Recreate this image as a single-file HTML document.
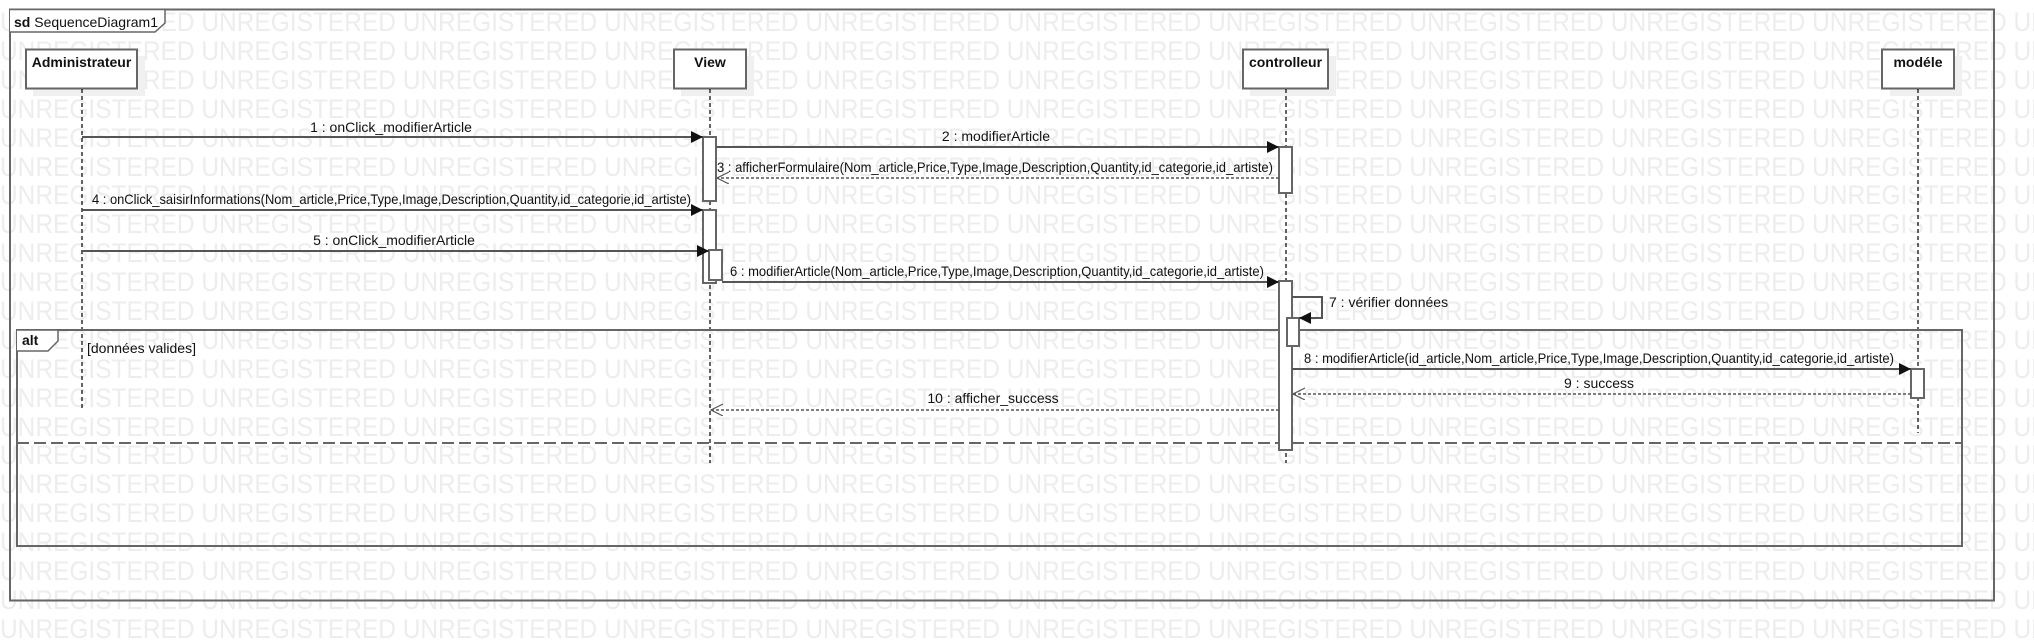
<!DOCTYPE html>
<html><head><meta charset="utf-8"><style>
html,body{margin:0;padding:0;background:#fff;}
svg{display:block;}
text{font-family:"Liberation Sans",Arial,sans-serif;}
.wm{font-size:27px;fill:#ededed;}
.lb{font-size:14px;fill:#111;}
.hd{font-size:14px;fill:#111;font-weight:bold;}
</style></head><body>
<svg width="2034" height="641" viewBox="0 0 2034 641" xmlns="http://www.w3.org/2000/svg">
<defs>
<marker id="fa" markerWidth="12" markerHeight="12" refX="12" refY="6" orient="auto" markerUnits="userSpaceOnUse"><path d="M0,0 L12,6 L0,12 z" fill="#111"/></marker>
<marker id="oa" markerWidth="14" markerHeight="14" refX="12" refY="6" orient="auto" markerUnits="userSpaceOnUse"><path d="M0,0 L12,6 L0,12" fill="none" stroke="#555" stroke-width="1.2"/></marker>
</defs>
<g class="wm">
<text x="0" y="31" textLength="2208" lengthAdjust="spacingAndGlyphs">UNREGISTERED UNREGISTERED UNREGISTERED UNREGISTERED UNREGISTERED UNREGISTERED UNREGISTERED UNREGISTERED UNREGISTERED UNREGISTERED UNREGISTERED</text>
<text x="0" y="60" textLength="2208" lengthAdjust="spacingAndGlyphs">UNREGISTERED UNREGISTERED UNREGISTERED UNREGISTERED UNREGISTERED UNREGISTERED UNREGISTERED UNREGISTERED UNREGISTERED UNREGISTERED UNREGISTERED</text>
<text x="0" y="89" textLength="2208" lengthAdjust="spacingAndGlyphs">UNREGISTERED UNREGISTERED UNREGISTERED UNREGISTERED UNREGISTERED UNREGISTERED UNREGISTERED UNREGISTERED UNREGISTERED UNREGISTERED UNREGISTERED</text>
<text x="0" y="118" textLength="2208" lengthAdjust="spacingAndGlyphs">UNREGISTERED UNREGISTERED UNREGISTERED UNREGISTERED UNREGISTERED UNREGISTERED UNREGISTERED UNREGISTERED UNREGISTERED UNREGISTERED UNREGISTERED</text>
<text x="0" y="147" textLength="2208" lengthAdjust="spacingAndGlyphs">UNREGISTERED UNREGISTERED UNREGISTERED UNREGISTERED UNREGISTERED UNREGISTERED UNREGISTERED UNREGISTERED UNREGISTERED UNREGISTERED UNREGISTERED</text>
<text x="0" y="176" textLength="2208" lengthAdjust="spacingAndGlyphs">UNREGISTERED UNREGISTERED UNREGISTERED UNREGISTERED UNREGISTERED UNREGISTERED UNREGISTERED UNREGISTERED UNREGISTERED UNREGISTERED UNREGISTERED</text>
<text x="0" y="204" textLength="2208" lengthAdjust="spacingAndGlyphs">UNREGISTERED UNREGISTERED UNREGISTERED UNREGISTERED UNREGISTERED UNREGISTERED UNREGISTERED UNREGISTERED UNREGISTERED UNREGISTERED UNREGISTERED</text>
<text x="0" y="233" textLength="2208" lengthAdjust="spacingAndGlyphs">UNREGISTERED UNREGISTERED UNREGISTERED UNREGISTERED UNREGISTERED UNREGISTERED UNREGISTERED UNREGISTERED UNREGISTERED UNREGISTERED UNREGISTERED</text>
<text x="0" y="262" textLength="2208" lengthAdjust="spacingAndGlyphs">UNREGISTERED UNREGISTERED UNREGISTERED UNREGISTERED UNREGISTERED UNREGISTERED UNREGISTERED UNREGISTERED UNREGISTERED UNREGISTERED UNREGISTERED</text>
<text x="0" y="291" textLength="2208" lengthAdjust="spacingAndGlyphs">UNREGISTERED UNREGISTERED UNREGISTERED UNREGISTERED UNREGISTERED UNREGISTERED UNREGISTERED UNREGISTERED UNREGISTERED UNREGISTERED UNREGISTERED</text>
<text x="0" y="320" textLength="2208" lengthAdjust="spacingAndGlyphs">UNREGISTERED UNREGISTERED UNREGISTERED UNREGISTERED UNREGISTERED UNREGISTERED UNREGISTERED UNREGISTERED UNREGISTERED UNREGISTERED UNREGISTERED</text>
<text x="0" y="349" textLength="2208" lengthAdjust="spacingAndGlyphs">UNREGISTERED UNREGISTERED UNREGISTERED UNREGISTERED UNREGISTERED UNREGISTERED UNREGISTERED UNREGISTERED UNREGISTERED UNREGISTERED UNREGISTERED</text>
<text x="0" y="378" textLength="2208" lengthAdjust="spacingAndGlyphs">UNREGISTERED UNREGISTERED UNREGISTERED UNREGISTERED UNREGISTERED UNREGISTERED UNREGISTERED UNREGISTERED UNREGISTERED UNREGISTERED UNREGISTERED</text>
<text x="0" y="407" textLength="2208" lengthAdjust="spacingAndGlyphs">UNREGISTERED UNREGISTERED UNREGISTERED UNREGISTERED UNREGISTERED UNREGISTERED UNREGISTERED UNREGISTERED UNREGISTERED UNREGISTERED UNREGISTERED</text>
<text x="0" y="436" textLength="2208" lengthAdjust="spacingAndGlyphs">UNREGISTERED UNREGISTERED UNREGISTERED UNREGISTERED UNREGISTERED UNREGISTERED UNREGISTERED UNREGISTERED UNREGISTERED UNREGISTERED UNREGISTERED</text>
<text x="0" y="464" textLength="2208" lengthAdjust="spacingAndGlyphs">UNREGISTERED UNREGISTERED UNREGISTERED UNREGISTERED UNREGISTERED UNREGISTERED UNREGISTERED UNREGISTERED UNREGISTERED UNREGISTERED UNREGISTERED</text>
<text x="0" y="493" textLength="2208" lengthAdjust="spacingAndGlyphs">UNREGISTERED UNREGISTERED UNREGISTERED UNREGISTERED UNREGISTERED UNREGISTERED UNREGISTERED UNREGISTERED UNREGISTERED UNREGISTERED UNREGISTERED</text>
<text x="0" y="522" textLength="2208" lengthAdjust="spacingAndGlyphs">UNREGISTERED UNREGISTERED UNREGISTERED UNREGISTERED UNREGISTERED UNREGISTERED UNREGISTERED UNREGISTERED UNREGISTERED UNREGISTERED UNREGISTERED</text>
<text x="0" y="551" textLength="2208" lengthAdjust="spacingAndGlyphs">UNREGISTERED UNREGISTERED UNREGISTERED UNREGISTERED UNREGISTERED UNREGISTERED UNREGISTERED UNREGISTERED UNREGISTERED UNREGISTERED UNREGISTERED</text>
<text x="0" y="580" textLength="2208" lengthAdjust="spacingAndGlyphs">UNREGISTERED UNREGISTERED UNREGISTERED UNREGISTERED UNREGISTERED UNREGISTERED UNREGISTERED UNREGISTERED UNREGISTERED UNREGISTERED UNREGISTERED</text>
<text x="0" y="609" textLength="2208" lengthAdjust="spacingAndGlyphs">UNREGISTERED UNREGISTERED UNREGISTERED UNREGISTERED UNREGISTERED UNREGISTERED UNREGISTERED UNREGISTERED UNREGISTERED UNREGISTERED UNREGISTERED</text>
<text x="0" y="638" textLength="2208" lengthAdjust="spacingAndGlyphs">UNREGISTERED UNREGISTERED UNREGISTERED UNREGISTERED UNREGISTERED UNREGISTERED UNREGISTERED UNREGISTERED UNREGISTERED UNREGISTERED UNREGISTERED</text>
</g>

<rect x="10" y="9.5" width="1984" height="591" fill="none" stroke="#666" stroke-width="2"/>
<path d="M10,9.5 H165 V23 L155,32 H10" fill="#fff" stroke="#666" stroke-width="1.5"/>
<text x="14" y="27" class="lb"><tspan font-weight="bold">sd</tspan> SequenceDiagram1</text>

<g fill="#f0f0f0">
<rect x="33" y="56" width="112" height="40"/>
<rect x="681" y="56" width="73" height="40"/>
<rect x="1250" y="56" width="86" height="40"/>
<rect x="1890" y="56" width="72" height="40"/>
</g>
<g fill="#fff" stroke="#666" stroke-width="2">
<rect x="26" y="49.5" width="111" height="39"/>
<rect x="674" y="49.5" width="72" height="39"/>
<rect x="1243" y="49.5" width="85" height="39"/>
<rect x="1882" y="49.5" width="72" height="39"/>
</g>
<g class="hd" text-anchor="middle">
<text x="81.5" y="67">Administrateur</text>
<text x="710" y="67">View</text>
<text x="1285.5" y="67">controlleur</text>
<text x="1918" y="67">modéle</text>
</g>

<g stroke="#111" stroke-width="1.3" stroke-dasharray="4,3">
<line x1="82" y1="89" x2="82" y2="411"/>
<line x1="710" y1="89" x2="710" y2="463"/>
<line x1="1286" y1="89" x2="1286" y2="463"/>
<line x1="1918" y1="89" x2="1918" y2="433"/>
</g>

<rect x="17" y="330" width="1945" height="216" fill="none" stroke="#666" stroke-width="2"/>
<path d="M17,330 H58 V341 L48,351 H17" fill="#fff" stroke="#666" stroke-width="1.5"/>
<text x="22" y="345" class="lb" font-weight="bold">alt</text>
<text x="87" y="353" class="lb">[données valides]</text>
<line x1="17" y1="443" x2="1962" y2="443" stroke="#666" stroke-width="2" stroke-dasharray="12,5"/>

<g fill="#fff" stroke="#666" stroke-width="2">
<rect x="703" y="137" width="13" height="64"/>
<rect x="703" y="210" width="13" height="73"/>
<rect x="709" y="250" width="13" height="30"/>
<rect x="1279" y="147" width="13" height="46"/>
<rect x="1279" y="281" width="13" height="169"/>
<rect x="1287" y="318" width="12" height="28"/>
<rect x="1911" y="369" width="13" height="29"/>
</g>

<g stroke="#555" stroke-width="2" fill="none">
<line x1="82" y1="137" x2="703" y2="137" marker-end="url(#fa)"/>
<line x1="716" y1="147" x2="1279" y2="147" marker-end="url(#fa)"/>
<line x1="82" y1="210" x2="703" y2="210" marker-end="url(#fa)"/>
<line x1="82" y1="251" x2="709" y2="251" marker-end="url(#fa)"/>
<line x1="722" y1="282" x2="1279" y2="282" marker-end="url(#fa)"/>
<polyline points="1292,297 1322,297 1322,318 1299,318" marker-end="url(#fa)"/>
<line x1="1292" y1="369" x2="1911" y2="369" marker-end="url(#fa)"/>
</g>
<g stroke="#555" stroke-width="1.5" fill="none" stroke-dasharray="3,2">
<line x1="1279" y1="178" x2="717" y2="178" marker-end="url(#oa)"/>
<line x1="1911" y1="394" x2="1293" y2="394" marker-end="url(#oa)"/>
<line x1="1279" y1="410" x2="711" y2="410" marker-end="url(#oa)"/>
</g>

<g class="lb">
<text x="391" y="132" text-anchor="middle">1 : onClick_modifierArticle</text>
<text x="996" y="141" text-anchor="middle">2 : modifierArticle</text>
<text x="717" y="172" textLength="556" lengthAdjust="spacingAndGlyphs">3 : afficherFormulaire(Nom_article,Price,Type,Image,Description,Quantity,id_categorie,id_artiste)</text>
<text x="92" y="204" textLength="599" lengthAdjust="spacingAndGlyphs">4 : onClick_saisirInformations(Nom_article,Price,Type,Image,Description,Quantity,id_categorie,id_artiste)</text>
<text x="394" y="245" text-anchor="middle">5 : onClick_modifierArticle</text>
<text x="730" y="276" textLength="534" lengthAdjust="spacingAndGlyphs">6 : modifierArticle(Nom_article,Price,Type,Image,Description,Quantity,id_categorie,id_artiste)</text>
<text x="1329" y="307">7 : vérifier données</text>
<text x="1304" y="363" textLength="590" lengthAdjust="spacingAndGlyphs">8 : modifierArticle(id_article,Nom_article,Price,Type,Image,Description,Quantity,id_categorie,id_artiste)</text>
<text x="1599" y="388" text-anchor="middle">9 : success</text>
<text x="993" y="403" text-anchor="middle">10 : afficher_success</text>
</g>
</svg>
</body></html>
